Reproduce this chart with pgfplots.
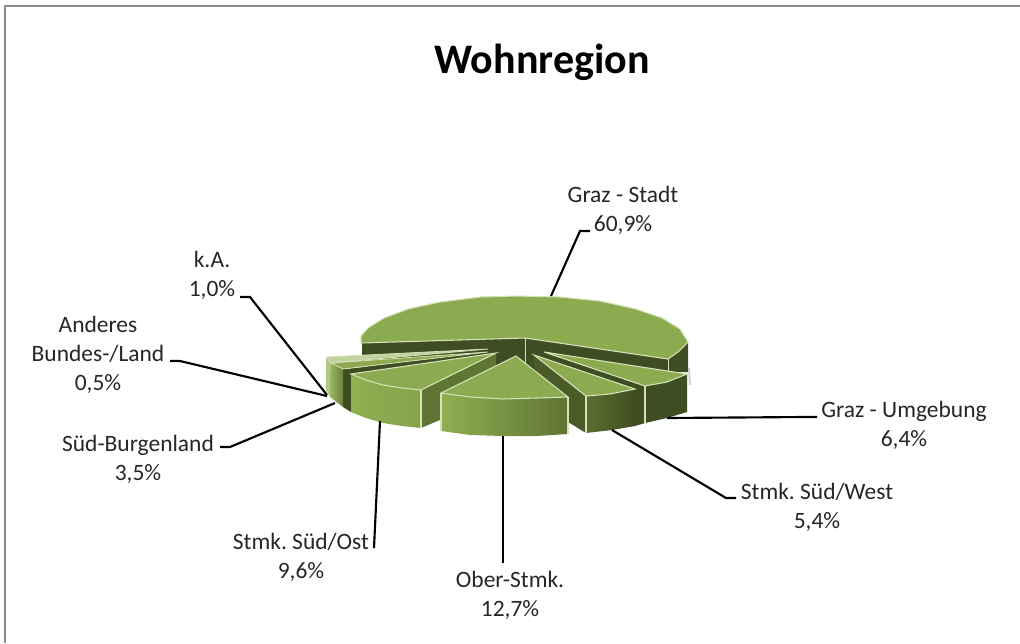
\documentclass[border=0pt]{standalone}
\usepackage{pgfplots}
\pgfplotsset{compat=1.18}
\usepackage{fontspec}
\setmainfont{Carlito}
\frenchspacing
\definecolor{top}{HTML}{8CAB50}
\definecolor{edge}{HTML}{D5E2B8}
\definecolor{dk}{HTML}{3F4D22}
\definecolor{dkb}{HTML}{4A5A28}
\definecolor{md}{HTML}{5F7534}
\definecolor{lt}{HTML}{8FAF50}
\definecolor{frame}{HTML}{8A8A8A}
\definecolor{txt}{HTML}{262626}
\begin{document}
\begin{tikzpicture}
\path[use as bounding box] (0,0) rectangle (765pt,482.25pt);
\begin{axis}[at={(0,0)},anchor=south west,scale only axis,width=765pt,height=482.25pt,
 xmin=0,xmax=1020,ymin=0,ymax=643,y dir=reverse,hide axis,clip=false,
 every axis plot/.append style={forget plot}]
% frame
\addplot[frame,line width=1.5pt] coordinates {(5,643)(5,6)(1020,6)};
% big slice walls
\addplot[fill=dk,draw=none] coordinates {(362,343)(525,338)(525,372)(362,372)} --cycle;
\addplot[fill=dk,draw=none] coordinates {(525,338)(668,359)(668,372)(525,372)} --cycle;
\addplot[fill=dk,draw=none] coordinates {(668,359)(678,352)(688,342)(688,372)(668,372)} --cycle;
\addplot[edge,line width=0.7pt] coordinates {(525,338)(525,368)};
\addplot[edge,line width=0.7pt] coordinates {(668,359)(668,372)};
\addplot[gray!60,line width=1.5pt,opacity=0.6] coordinates {(689,368)(690,385)};
% big slice top
\addplot[fill=top,draw=edge,line width=0.8pt] coordinates {(525,338)(361,343)(361,336)(368,328)(384,318)(408,309)(440,302)(480,297)(517,296)(560,297)(600,301)(636,309)(662,318)(680,329)(688,342)(678,352)(668,359)} --cycle;
% Anderes / k.A.
\addplot[fill=lt!70!white,draw=none] coordinates {(326,357)(331,363)(330,397)(326,390)} --cycle;
\addplot[fill=lt!55!white,draw=edge,line width=0.6pt] coordinates {(326,357)(488,349)(331,363)} --cycle;
% Sued-Burgenland
\addplot[fill=dk,draw=none] coordinates {(343,369)(488,355)(488,362)(351,376)(351,412)(343,407)} --cycle;
\addplot[left color=lt!90!white,right color=md!80!lt,draw=none] coordinates {(331,363)(343,369)(343,407)(330,397)} --cycle;
\addplot[fill=top,draw=edge,line width=0.6pt] coordinates {(331,363)(488,352)(343,369)} --cycle;
% Sued/Ost
\addplot[fill=md,draw=none] coordinates {(421,390)(496,353)(496,367)(440,420)(421,428)} --cycle;
\addplot[left color=lt,right color=lt!80!md,draw=none] coordinates {(351,374)(366,380)(383,385)(402,388)(421,390)(421,428)(402,426)(383,423)(366,418)(351,412)} --cycle;
\addplot[fill=top,draw=edge,line width=0.8pt] coordinates {(496,353)(351,374)(366,380)(383,385)(402,388)(421,390)} --cycle;
\addplot[edge,line width=0.8pt] coordinates {(421,390)(421,428)};
% Graz-Umgebung
\addplot[fill=dk,draw=none] coordinates {(544,352)(645,386)(645,423)(635,426)(586,400)(534,355)} --cycle;
\addplot[fill=dk,draw=none] coordinates {(645,386)(667,382)(687,374)(687,412)(667,418)(645,423)} --cycle;
\addplot[fill=top,draw=edge,line width=0.8pt] coordinates {(544,352)(687,374)(667,382)(645,386)} --cycle;
\addplot[edge,line width=0.8pt] coordinates {(645,386)(645,423)};
% Sued/West
\addplot[fill=dkb,draw=none] coordinates {(534,355)(586,396)(586,433)(568,422)(534,368)} --cycle;
\addplot[left color=md!85!dk,right color=dk,draw=none] coordinates {(586,396)(610,394)(635,389)(635,426)(612,430)(586,433)} --cycle;
\addplot[fill=top,draw=edge,line width=0.8pt] coordinates {(534,355)(635,389)(610,394)(586,396)} --cycle;
\addplot[edge,line width=0.8pt] coordinates {(586,396)(586,433)};
% Ober-Stmk
\addplot[left color=lt,right color=md,draw=none] coordinates {(441,393)(470,397)(503,399)(537,398)(568,397)(568,434)(537,436)(503,436)(470,435)(441,431)} --cycle;
\addplot[fill=top,draw=edge,line width=0.8pt] coordinates {(516,356)(441,393)(470,397)(503,399)(537,398)(568,397)} --cycle;
\addplot[edge,line width=0.8pt] coordinates {(441,393)(441,431)};
\addplot[edge,line width=0.8pt] coordinates {(568,397)(568,434)};
% leader lines
\addplot[black,line width=1.6pt] coordinates {(551,296)(580,231)(590,231)};
\addplot[black,line width=1.6pt] coordinates {(240,297)(250,297)(327,395)};
\addplot[black,line width=1.6pt] coordinates {(170,361)(180,361)(327,396)};
\addplot[black,line width=1.6pt] coordinates {(220,447)(230,447)(335,403)};
\addplot[black,line width=1.6pt] coordinates {(380,421)(374,548)};
\addplot[black,line width=1.6pt] coordinates {(503,436)(503,563)};
\addplot[black,line width=1.6pt] coordinates {(612,430)(726,498)(736,498)};
\addplot[black,line width=1.6pt] coordinates {(667,418)(805,417)(817,417)};
% text
\node[font=\fontsize{31.5}{36}\selectfont\bfseries,text=black] at (axis cs:542,62) {Wohnregion};
\tikzset{lab/.style={font=\fontsize{17.6}{21.8}\selectfont,align=center,text=txt}}
\node[lab] at (axis cs:623,210) {Graz - Stadt\\60,9\%};
\node[lab] at (axis cs:212,275) {k.A.\\1,0\%};
\node[lab] at (axis cs:98,355) {Anderes\\Bundes-/Land\\0,5\%};
\node[lab] at (axis cs:138,459) {Süd-Burgenland\\3,5\%};
\node[lab] at (axis cs:301,557) {Stmk. Süd/Ost\\9,6\%};
\node[lab] at (axis cs:510,595) {Ober-Stmk.\\12,7\%};
\node[lab] at (axis cs:817,507) {Stmk. Süd/West\\5,4\%};
\node[lab] at (axis cs:904,425) {Graz - Umgebung\\6,4\%};
\end{axis}
\end{tikzpicture}
\end{document}
